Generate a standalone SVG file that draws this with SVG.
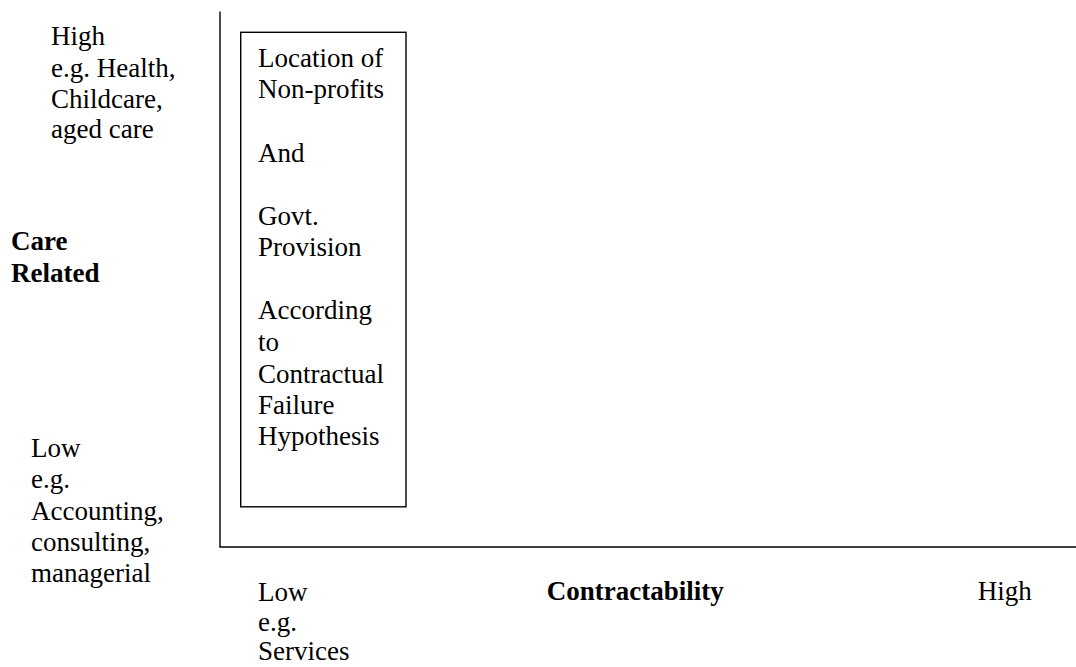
<svg xmlns="http://www.w3.org/2000/svg" width="1076" height="667" viewBox="0 0 1076 667">
<style>
text{font-family:"Liberation Serif","Times New Roman",serif;font-size:27px;fill:#000}
.b{font-weight:bold}
.ln{stroke:#000;stroke-width:1.4;fill:none}
</style>
<rect width="1076" height="667" fill="#fff"/>
<g id="axes">
<line class="ln" x1="220" y1="11.5" x2="220" y2="547"/>
<line class="ln" x1="219.3" y1="547" x2="1076" y2="547"/>
</g>
<g id="box">
<rect class="ln" x="240.7" y="32.3" width="165.3" height="474.5"/>
<text x="258" y="67">Location of</text>
<text x="258" y="98">Non-profits</text>
<text x="258" y="162">And</text>
<text x="258" y="225">Govt.</text>
<text x="258" y="256">Provision</text>
<text x="258" y="319">According</text>
<text x="258" y="351">to</text>
<text x="258" y="383">Contractual</text>
<text x="258" y="414">Failure</text>
<text x="258" y="445">Hypothesis</text>
</g>
<g id="y-high">
<text x="51" y="45">High</text>
<text x="51" y="77">e.g. Health,</text>
<text x="51" y="108">Childcare,</text>
<text x="51" y="138">aged care</text>
</g>
<g id="y-title">
<text class="b" x="11" y="250">Care</text>
<text class="b" x="11" y="282">Related</text>
</g>
<g id="y-low">
<text x="31" y="457">Low</text>
<text x="31" y="488">e.g.</text>
<text x="31" y="520">Accounting,</text>
<text x="31" y="551">consulting,</text>
<text x="31" y="582">managerial</text>
</g>
<g id="x-low">
<text x="258" y="601">Low</text>
<text x="258" y="631">e.g.</text>
<text x="258" y="660">Services</text>
</g>
<g id="x-title">
<text class="b" x="546.7" y="600">Contractability</text>
</g>
<g id="x-high">
<text x="977.7" y="600">High</text>
</g>
</svg>
